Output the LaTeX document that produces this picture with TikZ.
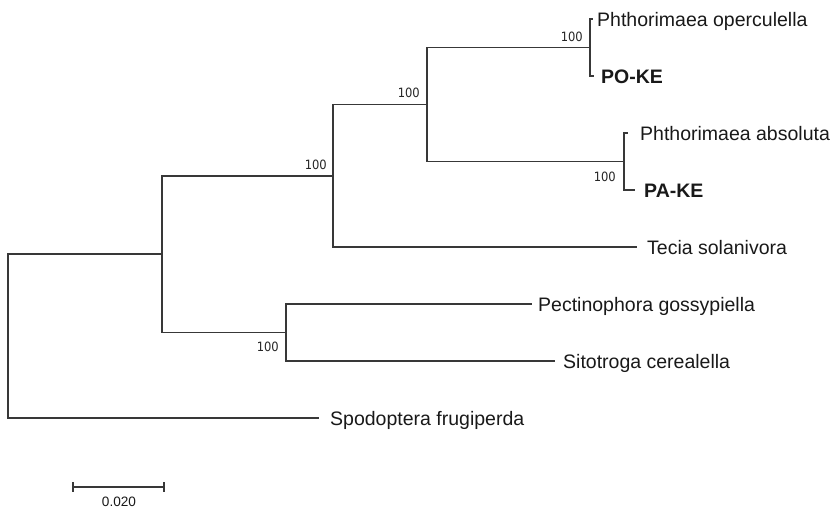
\documentclass[tikz,border=0pt]{standalone}
\usepackage{fontspec}
\setmainfont{Liberation Sans}
\newfontfamily\bootfont[FakeStretch=0.9]{DejaVu Sans}
\usetikzlibrary{calc}
\begin{document}
\begin{tikzpicture}[x=1pt,y=-1pt,
  branch/.style={draw=black!78, line width=1.3pt},
  leaf/.style={anchor=west, inner ysep=0pt, inner xsep=#1, text height=14pt,
    text depth=0pt, font=\fontsize{19.5}{23}\selectfont, text=black!90},
  leaf/.default=7pt,
  leafb/.style={leaf=#1, font=\fontsize{19.5}{23}\selectfont\bfseries},
  leafb/.default=7pt,
  boot/.style={anchor=east, inner sep=0pt, font=\bootfont\fontsize{12.8}{14}\selectfont, text=black!85},
  scalelabel/.style={inner sep=0pt, font=\fontsize{13.6}{15}\selectfont, text=black!90}]
\useasboundingbox (0,0) rectangle (837,514);

% internal nodes of the tree
\coordinate (R) at (8,336);
\coordinate (A) at (162,254);
\coordinate (B) at (333,176);
\coordinate (C) at (286,332.5);
\coordinate (D) at (427,104.5);
\coordinate (E) at (590,47.5);
\coordinate (F) at (624,161.5);

% taxa
\node[leaf=4pt]   (PO)   at (593,19)  {Phthorimaea operculella};
\node[leafb=7pt]  (POKE) at (594,76)  {PO-KE};
\node[leaf=12pt]  (PABS) at (628,133) {Phthorimaea absoluta};
\node[leafb=9pt]  (PAKE) at (635,190) {PA-KE};
\node[leaf=10pt]  (TS)   at (637,247) {Tecia solanivora};
\node[leaf=6pt]   (PG)   at (532,304) {Pectinophora gossypiella};
\node[leaf=8pt]   (SC)   at (555,361) {Sitotroga cerealella};
\node[leaf=11pt]  (SF)   at (319,418) {Spodoptera frugiperda};

% branches
\draw[branch] (R) |- (A);
\draw[branch] (R) |- (SF.west);
\draw[branch] (A) |- (B);
\draw[branch] (A) |- (C);
\draw[branch] (B) |- (D);
\draw[branch] (B) |- (TS.west);
\draw[branch] (D) |- (E);
\draw[branch] (D) |- (F);
\draw[branch] (E) |- (PO.west);
\draw[branch] (E) |- (POKE.west);
\draw[branch] (F) |- (PABS.west);
\draw[branch] (F) |- (PAKE.west);
\draw[branch] (C) |- (PG.west);
\draw[branch] (C) |- (SC.west);

% bootstrap support
\node[boot] (bE) at ($(E)+(-7,-10.5)$) {100};
\node[boot] (bF) at ($(F)+(-8,15.5)$) {100};
\node[boot] (bD) at ($(D)+(-7,-11.5)$) {100};
\node[boot] (bB) at ($(B)+(-6,-11)$) {100};
\node[boot] (bC) at ($(C)+(-7,14.5)$) {100};

% scale bar
\coordinate (S1) at (73,487);
\coordinate (S2) at (164,487);
\draw[branch, line width=1.2pt] (S1) -- (S2);
\draw[branch, line width=1.2pt] ($(S1)+(0,-5)$) -- ($(S1)+(0,5)$);
\draw[branch, line width=1.2pt] ($(S2)+(0,-5)$) -- ($(S2)+(0,5)$);
\node[scalelabel] (SL) at (119,502) {0.020};
\end{tikzpicture}
\end{document}
